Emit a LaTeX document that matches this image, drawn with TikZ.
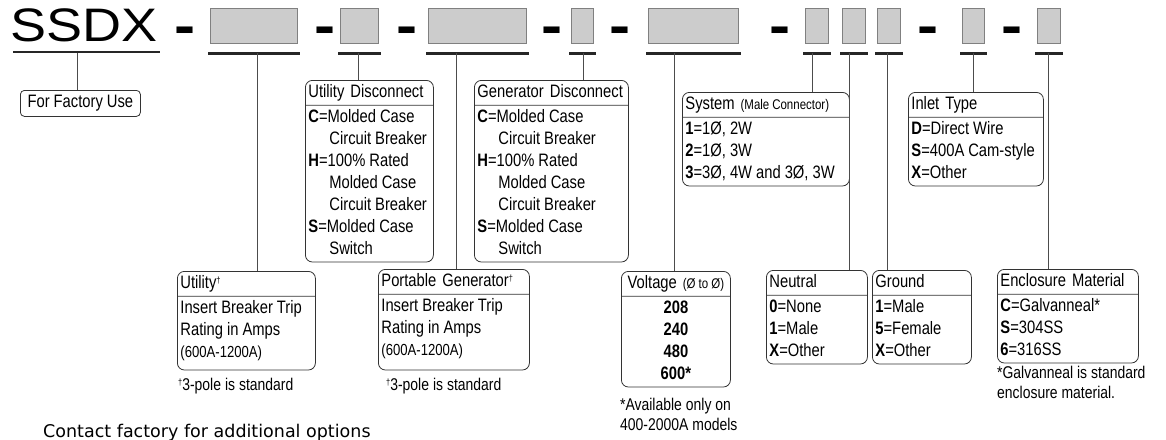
\documentclass[tikz,border=0pt]{standalone}
\usepackage{fontspec}
\setmainfont{Liberation Sans}
\newfontfamily\cond[FakeStretch=0.82]{Liberation Sans}
\newfontfamily\wide[FakeStretch=1.15]{Liberation Sans}
\newfontfamily\plainsans{DejaVu Sans}
\usetikzlibrary{positioning}
\usetikzlibrary{shapes.multipart}
\newcommand\dagmark{{\fontsize{9}{9}\selectfont\raisebox{5pt}{†}}}
\newcommand\tightsp{\spaceskip=4pt plus 1pt minus 1pt\relax}
\newcommand\smallsp{\spaceskip=3pt plus 1pt minus 1pt\relax}

\begin{document}
\begin{tikzpicture}[x=1pt,y=-1pt,
  code/.style={draw=black!50, fill=black!20, line width=1.2pt, inner sep=0pt, minimum height=35pt, anchor=north west},
  uline/.style={black!85, line width=2.8pt},
  conn/.style={black!70, line width=0.9pt},
  hyph/.style={anchor=base, inner sep=0pt, font=\wide\bfseries\fontsize{55}{55}\selectfont},
  desc/.style={draw=black!80, line width=0.8pt, rounded corners=7pt, rectangle split, rectangle split parts=2,
    align=left, inner xsep=3pt, inner ysep=1pt, anchor=north west,
    font=\cond\fontsize{18}{22}\selectfont\tightsp},
  note/.style={inner sep=0pt, align=left, font=\cond\fontsize{17}{20}\selectfont\tightsp}]
\useasboundingbox (0,0) rectangle (1166,439);

% part number
\node[anchor=base west, inner sep=0pt, font=\wide\fontsize{47}{47}\selectfont] (ssdx) at (10,41) {SSDX};
\draw[uline] ([shift={(3,11)}]ssdx.base west) -- ([shift={(2,11)}]ssdx.base east);

\foreach \x [count=\i] in {185,325,407,552,620,780,928,1012}{%
\node[hyph] (d\i) at (\x,44) {-};
}

\node[code, minimum width=87pt] (c1) at (210,8) {};
\node[code, minimum width=38pt] (c2) at (340,8) {};
\node[code, minimum width=98pt] (c3) at (428,8) {};
\node[code, minimum width=22pt] (c4) at (571,8) {};
\node[code, minimum width=90pt] (c5) at (648,8) {};
\node[code, minimum width=23pt] (c6) at (805,8) {};
\node[code, minimum width=23pt] (c7) at (842,8) {};
\node[code, minimum width=23pt] (c8) at (877,8) {};
\node[code, minimum width=22pt] (c9) at (962,8) {};
\node[code, minimum width=23pt] (c10) at (1037,8) {};

\foreach \n in {c1,c2,c3,c4,c5,c6,c7,c8,c9,c10}{%
\draw[uline] ([shift={(-2,9)}]\n.south west) -- ([shift={(2,9)}]\n.south east);
}

% option boxes
\node[draw=black!80, line width=0.8pt, rounded corners=4pt, minimum width=120pt, minimum height=26pt,
  anchor=north west, inner sep=0pt, font=\cond\fontsize{18}{22}\selectfont\tightsp] (factory) at (20,90) {For Factory Use};

\node[desc, text width=122pt] (udisc) at (305,80) {\strut Utility Disconnect
\nodepart{two}\tightsp\strut\textbf{C}=Molded Case\\\hspace*{21pt}Circuit Breaker\\\textbf{H}=100\% Rated\\\hspace*{21pt}Molded Case\\\hspace*{21pt}Circuit Breaker\\\textbf{S}=Molded Case\\\hspace*{21pt}Switch\strut};

\node[desc, text width=148pt] (gdisc) at (474,80) {\strut Generator Disconnect
\nodepart{two}\tightsp\strut\textbf{C}=Molded Case\\\hspace*{21pt}Circuit Breaker\\\textbf{H}=100\% Rated\\\hspace*{21pt}Molded Case\\\hspace*{21pt}Circuit Breaker\\\textbf{S}=Molded Case\\\hspace*{21pt}Switch\strut};

\node[desc, text width=132pt] (util) at (177,271) {\strut Utility\dagmark
\nodepart{two}\tightsp\strut Insert Breaker Trip\\Rating in Amps\\{\fontsize{16}{22}\selectfont (600A-1200A)}\\[-17pt]\strut};

\node[desc, text width=145pt] (pgen) at (378,269) {\strut Portable Generator\dagmark
\nodepart{two}\tightsp\strut Insert Breaker Trip\\Rating in Amps\\{\fontsize{16}{22}\selectfont (600A-1200A)}\\[-15pt]\strut};

\node[desc, text width=103pt, align=center] (volt) at (621,271) {\strut Voltage {\fontsize{14}{22}\selectfont\smallsp (Ø to Ø)}
\nodepart{two}\strut\textbf{208}\\\textbf{240}\\\textbf{480}\\\textbf{600*}\strut};

\node[desc, text width=161pt] (sys) at (682,92) {\strut System {\fontsize{14}{22}\selectfont\smallsp (Male Connector)}
\nodepart{two}\tightsp\strut\textbf{1}=1Ø, 2W\\\textbf{2}=1Ø, 3W\\\textbf{3}=3Ø, 4W and 3Ø, 3W\strut};

\node[desc, text width=129pt] (inlet) at (908,92) {\strut Inlet Type
\nodepart{two}\tightsp\strut\textbf{D}=Direct Wire\\\textbf{S}=400A Cam-style\\\textbf{X}=Other\strut};

\node[desc, text width=95pt] (neut) at (766,270) {\strut Neutral
\nodepart{two}\strut\textbf{0}=None\\\textbf{1}=Male\\\textbf{X}=Other\strut};

\node[desc, text width=93pt] (gnd) at (872,270) {\strut Ground
\nodepart{two}\strut\textbf{1}=Male\\\textbf{5}=Female\\\textbf{X}=Other\strut};

\node[desc, text width=135pt] (encl) at (997,269) {\strut Enclosure Material
\nodepart{two}\strut\textbf{C}=Galvanneal*\\\textbf{S}=304SS\\\textbf{6}=316SS\strut};

% leaders
\foreach \t/\x/\b in {t0/77/factory,t1/257/util,t2/358/udisc,t3/456/pgen,t4/583/gdisc,t5/674/volt,
  t6/812/sys,t7/849/neut,t8/887/gnd,t9/973/inlet,t10/1048/encl}{%
\coordinate (\t) at (\x,53);
\draw[conn] (\t) -- (\t |- \b.north);
}

% notes
\node[note, anchor=base west] (fn1) at (178,390) {\dagmark3-pole is standard};
\node[note, anchor=base west] (fn2) at (386,390) {\dagmark3-pole is standard};
\node[note, anchor=north west] (fn3) at (620,396) {\strut*Available only on\\400-2000A models};
\node[note, anchor=north west] (fn4) at (997,364) {\strut*Galvanneal is standard\\enclosure material.};
\node[anchor=base west, inner sep=0pt, font=\plainsans\fontsize{17.5}{20}\selectfont] (contact) at (43,437) {Contact factory for additional options};

\end{tikzpicture}
\end{document}
